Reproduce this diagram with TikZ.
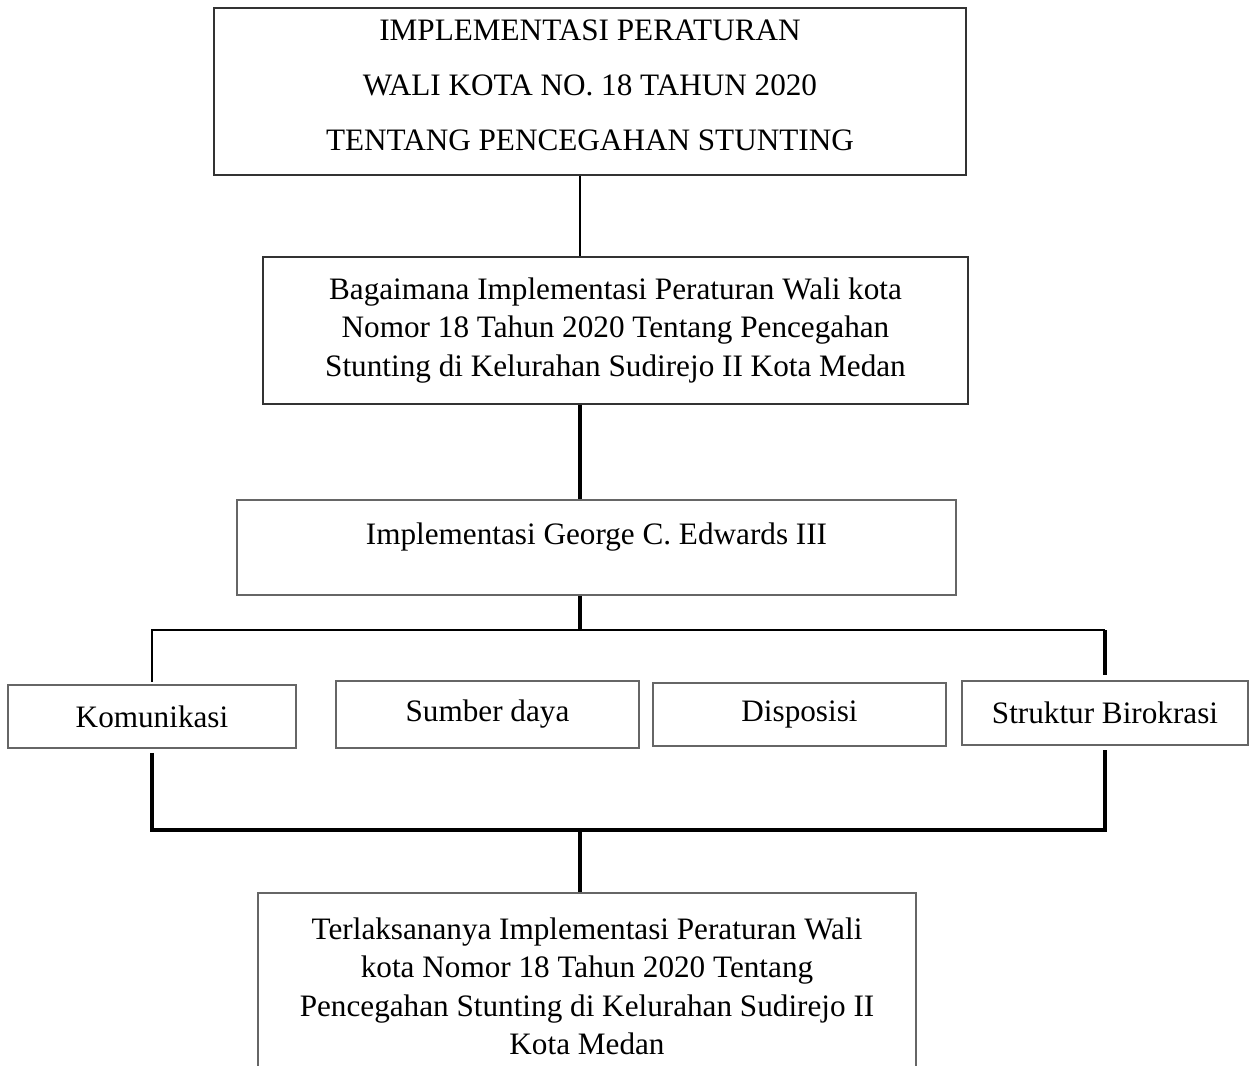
\documentclass[tikz,border=0pt]{standalone}
\usepackage{fontspec}
\setmainfont{Liberation Serif}
\usetikzlibrary{positioning}

\tikzset{
  kotak/.style={draw=black!60, line width=0.7pt, align=center, inner sep=2pt,
    font=\fontsize{12}{14.8}\selectfont},
  garistipis/.style={line width=0.6pt},
  garistebal/.style={line width=1.4pt}
}

\begin{document}
\begin{tikzpicture}[x=0.3846pt, y=-0.3846pt]
      \useasboundingbox (0,0) rectangle (1249,1066);
      \clip (0,0) rectangle (1249,1066);
%      \draw [help lines] (0,0) grid[step=100] (1249,1066);
      \coordinate (tengah) at (580,0);
      \coordinate (cabang) at (580,630);
      \coordinate (gabung) at (580,830);
      % kotak utama
      \node [kotak, draw=black!80, minimum width=289.2pt, minimum height=64.2pt, text depth=5pt,
        font=\fontsize{12}{21.2}\selectfont] (judul) at (590,91.5)
        {IMPLEMENTASI PERATURAN\\WALI KOTA NO. 18 TAHUN 2020\\TENTANG PENCEGAHAN STUNTING};
      \node [kotak, draw=black!80, minimum width=271.2pt, minimum height=56.5pt] (masalah) at (615.5,330.5)
        {Bagaimana Implementasi Peraturan Wali kota\\Nomor 18 Tahun 2020 Tentang Pencegahan\\Stunting di Kelurahan Sudirejo II Kota Medan};
      \node [kotak, minimum width=276.5pt, minimum height=36.5pt, text depth=10.6pt] (teori) at (596.5,547.5)
        {Implementasi George C. Edwards III};
      % empat variabel
      \node [kotak, minimum width=110.8pt, minimum height=24.2pt] (komunikasi) at (152,716.5) {Komunikasi};
      \node [kotak, minimum width=116.5pt, minimum height=25.8pt] (sumberdaya) at (487.5,714.5) {Sumber daya};
      \node [kotak, minimum width=112.7pt, minimum height=24.2pt] (disposisi) at (799.5,714.5) {Disposisi};
      \node [kotak, minimum width=110pt, minimum height=24.6pt] (struktur) at (1105,713) {Struktur Birokrasi};
      % hasil (terpotong di bawah)
      \node [kotak, minimum width=253.1pt, minimum height=71.9pt] (hasil) at (587,986.5)
        {Terlaksananya Implementasi Peraturan Wali\\kota Nomor 18 Tahun 2020 Tentang\\Pencegahan Stunting di Kelurahan Sudirejo II\\Kota Medan};
      % garis
      \draw [garistipis] (judul.south -| tengah) -- (masalah.north -| tengah);
      \draw [garistebal] (masalah.south -| tengah) -- (teori.north -| tengah);
      \draw [garistebal] (teori.south -| tengah) -- (cabang);
      \draw [garistipis, shorten <=1pt] (komunikasi.north) |- (cabang) -- (cabang -| struktur.north);
      \draw [garistebal, shorten >=2pt] (cabang -| struktur.north) -- (struktur.north);
      \draw [garistebal, shorten <=1.5pt] (komunikasi.south) |- (gabung);
      \draw [garistebal, shorten >=1.5pt] (gabung) -| (struktur.south);
      \draw [garistebal] (gabung) -- (hasil.north -| gabung);
\end{tikzpicture}
\end{document}
